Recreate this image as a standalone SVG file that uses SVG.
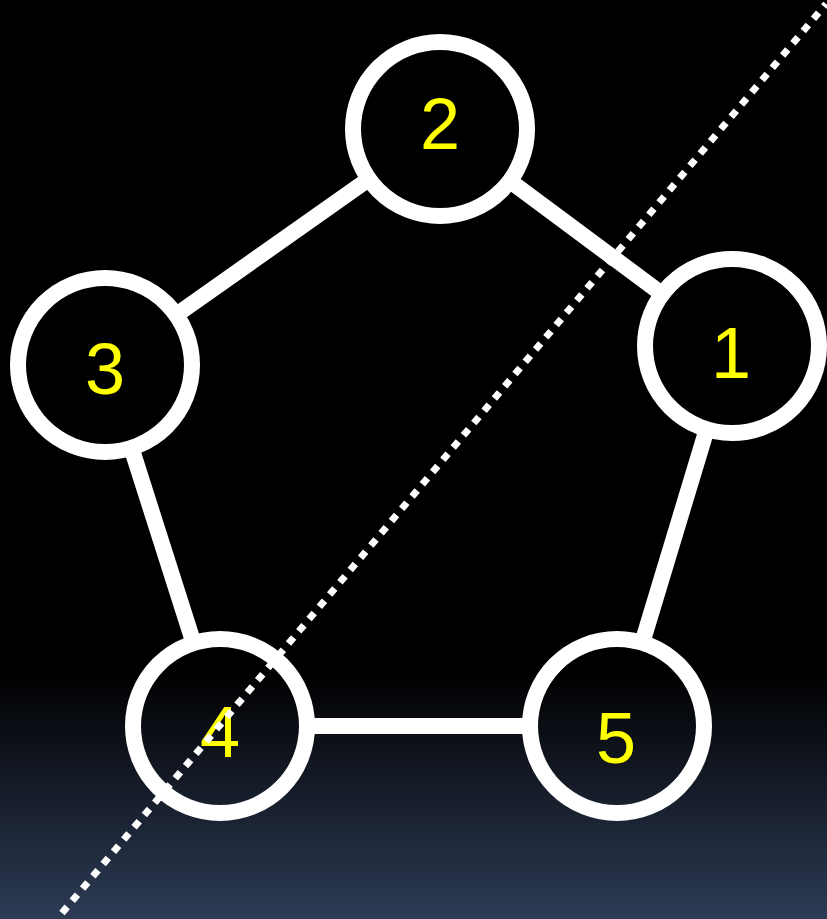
<svg xmlns="http://www.w3.org/2000/svg" width="827" height="919" viewBox="0 0 827 919">
<defs>
<linearGradient id="bg" x1="0" y1="0" x2="0" y2="919" gradientUnits="userSpaceOnUse">
<stop offset="0" stop-color="#000000"/>
<stop offset="0.73" stop-color="#000000"/>
<stop offset="1" stop-color="#2d3b55"/>
</linearGradient>
</defs>
<style>
.node circle{fill:none;stroke:#ffffff;stroke-width:16}
.node text{font-family:"Liberation Sans",Arial,sans-serif;font-size:72px;fill:#ffff00;text-anchor:middle}
.edge{stroke:#ffffff;stroke-width:16;fill:none}
.cut{stroke:#ffffff;stroke-width:7;stroke-dasharray:8 8;fill:none}
</style>
<rect x="0" y="0" width="827" height="919" fill="url(#bg)"/>
<g id="connectors">
<line class="edge" x1="366.4" y1="180.8" x2="178.6" y2="313.2"/>
<line class="edge" x1="512.2" y1="182.7" x2="659.8" y2="292.3"/>
<line class="edge" x1="132.3" y1="450.8" x2="192.7" y2="640.2"/>
<line class="edge" x1="705.9" y1="432.1" x2="643.1" y2="639.9"/>
<line class="edge" x1="310" y1="726" x2="527" y2="726"/>
</g>
<g id="node1" class="node"><circle cx="732" cy="346" r="87"/><text x="731" y="378">1</text></g>
<g id="node2" class="node"><circle cx="440" cy="129" r="87"/><text x="440" y="149">2</text></g>
<g id="node3" class="node"><circle cx="105" cy="365" r="87"/><text x="105" y="394">3</text></g>
<g id="node4" class="node"><circle cx="220" cy="726" r="87"/><text x="220" y="757">4</text></g>
<g id="node5" class="node"><circle cx="617" cy="726" r="87"/><text x="616" y="763">5</text></g>
<line id="cut" class="cut" x1="62" y1="913" x2="826" y2="4"/>
</svg>
